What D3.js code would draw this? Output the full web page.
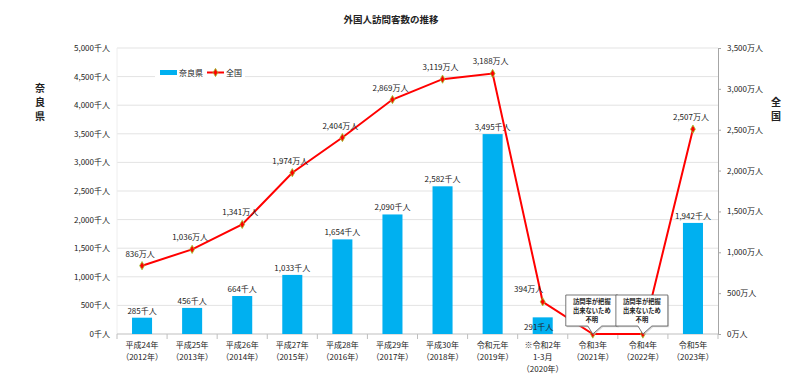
<!DOCTYPE html>
<html><head><meta charset="utf-8">
<script src="https://cdn.jsdelivr.net/npm/d3@7"></script>
<style>
body{margin:0;background:#fff;}
text{font-family:"Noto Sans CJK JP","Noto Sans",sans-serif;fill:#222;}
</style></head>
<body><svg id="c" width="800" height="375"></svg>
<script>
const categories = [
  ["平成24年","（2012年）"],["平成25年","（2013年）"],["平成26年","（2014年）"],
  ["平成27年","（2015年）"],["平成28年","（2016年）"],["平成29年","（2017年）"],
  ["平成30年","（2018年）"],["令和元年","（2019年）"],["※令和2年","1-3月","（2020年）"],
  ["令和3年","（2021年）"],["令和4年","（2022年）"],["令和5年","（2023年）"]
];
const naraValues = [285,456,664,1033,1654,2090,2582,3495,291,null,null,1942];   // 千人
const nationalValues = [836,1036,1341,1974,2404,2869,3119,3188,394,0,0,2507];  // 万人
const nationalUnknown = [false,false,false,false,false,false,false,false,false,true,true,false];
const leftTicks = [0,500,1000,1500,2000,2500,3000,3500,4000,4500,5000];
const rightTicks = [0,500,1000,1500,2000,2500,3000,3500];
const title = "外国人訪問客数の推移";
const unknownNote = ["訪問率が把握","出来ないため","不明"];

const svg = d3.select("#c");
const L = 117, R = 718, T = 48, B = 334;
const idx = categories.map((d,i)=>i);
const x = d3.scaleBand().domain(idx).range([L,R]).padding(0);
const yL = d3.scaleLinear().domain([0,5000]).range([B,T]);
const yR = d3.scaleLinear().domain([0,3500]).range([B,T]);
const fmt = d3.format(",");

// title
svg.append("text").attr("x",391).attr("y",23).attr("text-anchor","middle")
  .attr("font-size",9.5).attr("font-weight","bold").text(title);

// gridlines
svg.append("g").selectAll("line").data(leftTicks.slice(1)).join("line")
  .attr("x1",L).attr("x2",R).attr("y1",d=>yL(d)).attr("y2",d=>yL(d))
  .attr("stroke","#e3e3e3").attr("stroke-width",1);
svg.append("line").attr("x1",L).attr("x2",L).attr("y1",T).attr("y2",B).attr("stroke","#eeeeee");

// left axis
const gL = svg.append("g").attr("transform",`translate(${L},0)`)
  .call(d3.axisLeft(yL).tickValues(leftTicks).tickSize(0).tickPadding(7).tickFormat(d=>fmt(d)+"千人"));
gL.select(".domain").remove();
gL.selectAll("text").attr("font-size",8).attr("font-family",'"Noto Sans CJK JP",sans-serif').attr("fill","#222");

// right axis
const gR = svg.append("g").attr("transform",`translate(${R},0)`)
  .call(d3.axisRight(yR).tickValues(rightTicks).tickSize(3).tickPadding(6).tickFormat(d=>fmt(d)+"万人"));
gR.select(".domain").attr("stroke","#a6a6a6");
gR.selectAll(".tick line").attr("stroke","#a6a6a6");
gR.selectAll("text").attr("font-size",8).attr("font-family",'"Noto Sans CJK JP",sans-serif').attr("fill","#222");

// bottom axis
const gB = svg.append("g").attr("transform",`translate(0,${B})`);
gB.append("line").attr("x1",L).attr("x2",R).attr("stroke","#bfbfbf");
gB.selectAll("line.tk").data(d3.range(categories.length+1)).join("line").attr("class","tk")
  .attr("x1",i=>L+i*x.step()).attr("x2",i=>L+i*x.step()).attr("y1",0).attr("y2",5).attr("stroke","#bfbfbf");
gB.selectAll("text.cat").data(idx).join("text").attr("class","cat")
  .attr("x",i=>x(i)+x.bandwidth()/2).attr("y",14).attr("text-anchor","middle").attr("font-size",8)
  .each(function(i){
    d3.select(this).selectAll("tspan").data(categories[i]).join("tspan")
      .attr("x",x(i)+x.bandwidth()/2).attr("dy",(d,k)=>k?12:0).text(d=>d);
  });

// axis titles
svg.append("text").attr("x",40).attr("y",92).attr("text-anchor","middle").attr("font-size",10).attr("font-weight","bold")
  .selectAll("tspan").data(["奈","良","県"]).join("tspan").attr("x",40).attr("dy",(d,k)=>k?14:0).text(d=>d);
svg.append("text").attr("x",776).attr("y",106).attr("text-anchor","middle").attr("font-size",10).attr("font-weight","bold")
  .selectAll("tspan").data(["全","国"]).join("tspan").attr("x",776).attr("dy",(d,k)=>k?14:0).text(d=>d);

// bars
const bw = x.bandwidth()*0.4;
const barData = idx.filter(i=>naraValues[i]!=null);
svg.append("g").selectAll("rect").data(barData).join("rect")
  .attr("x",i=>x(i)+x.bandwidth()/2-bw/2).attr("width",bw)
  .attr("y",i=>yL(naraValues[i])).attr("height",i=>B-yL(naraValues[i]))
  .attr("fill","#00B0F0");
svg.append("g").selectAll("text").data(barData).join("text")
  .attr("x",i=>x(i)+x.bandwidth()/2-(i===8?4:0)).attr("y",i=>i===8?B-4:yL(naraValues[i])-4)
  .attr("text-anchor","middle").attr("font-size",8).text(i=>fmt(naraValues[i])+"千人");

// line
const line = d3.line().x(i=>x(i)+x.bandwidth()/2).y(i=>yR(nationalValues[i]));
svg.append("path").datum(idx).attr("d",line).attr("fill","none").attr("stroke","#FF0000").attr("stroke-width",2);
const diamond = d3.symbol().type(d3.symbolDiamond).size(20);
svg.append("g").selectAll("path").data(idx).join("path")
  .attr("transform",i=>`translate(${x(i)+x.bandwidth()/2},${yR(nationalValues[i])})`)
  .attr("d",diamond).attr("fill","#FF0000").attr("stroke","#9ACD32").attr("stroke-width",0.8);
svg.append("g").selectAll("text").data(idx.filter(i=>!nationalUnknown[i])).join("text")
  .attr("x",i=>x(i)+x.bandwidth()/2-(i===8?14:2)).attr("y",i=>yR(nationalValues[i])-(i===8?10:9))
  .attr("text-anchor","middle").attr("font-size",8).text(i=>fmt(nationalValues[i])+"万人");

// callouts
idx.filter(i=>nationalUnknown[i]).forEach(i=>{
  const cx = x(i)+x.bandwidth()/2, cy = yR(nationalValues[i]);
  const bx = cx-27, by = cy-39, w = 52, h = 31;
  const g = svg.append("g");
  const p = `M${bx},${by}H${bx+w}V${by+h}H${cx+9}L${cx},${cy}L${cx-5},${by+h}H${bx}Z`;
  g.append("path").attr("d",p).attr("transform","translate(1.2,1.2)").attr("fill","#bbb").attr("opacity",0.6);
  g.append("path").attr("d",p).attr("fill","#fff").attr("stroke","#555").attr("stroke-width",0.8);
  g.append("text").attr("text-anchor","middle").attr("font-size",6.3).attr("font-weight","bold")
    .selectAll("tspan").data(unknownNote).join("tspan").attr("x",cx-1).attr("y",(d,k)=>by+9+k*9).text(d=>d);
});

// legend
const lg = svg.append("g").attr("transform","translate(155,64)");
lg.append("rect").attr("width",90).attr("height",16).attr("fill","#fff");
lg.append("rect").attr("x",5).attr("y",6).attr("width",17).attr("height",5).attr("fill","#00B0F0");
lg.append("text").attr("x",24).attr("y",12).attr("font-size",8).text("奈良県");
lg.append("line").attr("x1",52).attr("x2",69).attr("y1",8.5).attr("y2",8.5).attr("stroke","#FF0000").attr("stroke-width",2);
lg.append("path").attr("transform","translate(60.5,8.5)").attr("d",diamond).attr("fill","#FF0000").attr("stroke","#9ACD32").attr("stroke-width",0.8);
lg.append("text").attr("x",71).attr("y",12).attr("font-size",8).text("全国");
</script></body></html>
